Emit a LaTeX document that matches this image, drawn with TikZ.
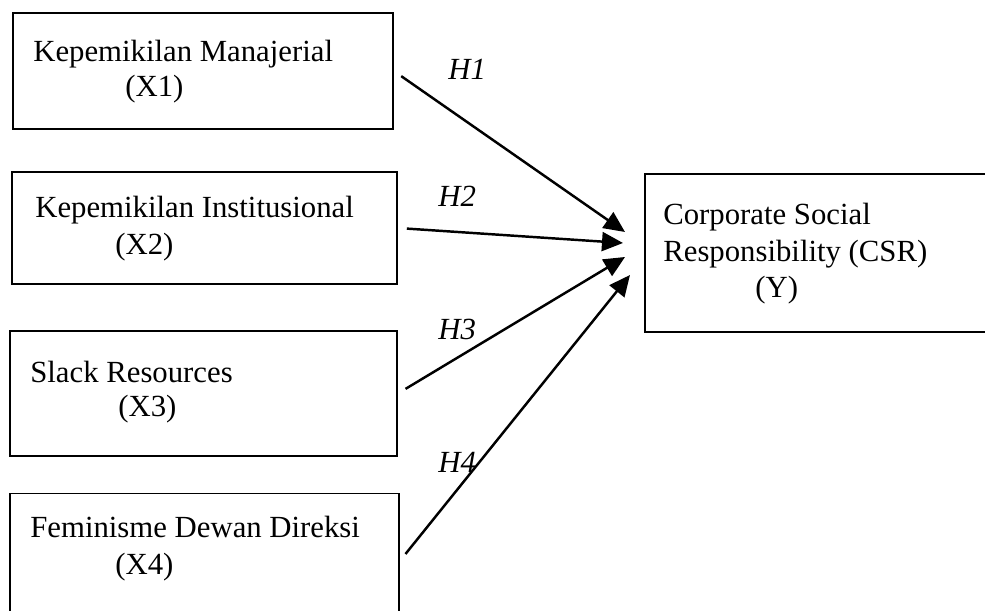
\documentclass[tikz,border=0pt]{standalone}
\usepackage{fontspec}
\setmainfont{Liberation Serif}
\usetikzlibrary{arrows.meta}
\tikzset{box/.style={draw,line width=1pt,inner sep=0pt}}
\tikzset{txt/.style={anchor=base west,inner sep=0pt,font=\fontsize{17.5}{21}\selectfont}}
\tikzset{hyp/.style={txt,font=\fontsize{17.5}{21}\selectfont\itshape}}
\tikzset{arr/.style={line width=1.4pt,shorten <=0.18cm,-{Triangle[length=0.42cm,width=0.38cm]}}}

\begin{document}
\begin{tikzpicture}[x=0.02cm,y=-0.02cm]
        \useasboundingbox (0,0) rectangle (985,611);
        % variabel independen
        \node[box,minimum width=7.6cm,minimum height=2.32cm] (x1) at (203,71) {};
        \node[box,minimum width=7.7cm,minimum height=2.24cm] (x2) at (204.5,228) {};
        \node[box,minimum width=7.74cm,minimum height=2.5cm] (x3) at (203.5,393.5) {};
        \node[box,minimum width=7.78cm,minimum height=2.7cm] (x4) at (204.5,561) {};
        \node[txt] (x1a) at (33,62) {Kepemikilan Manajerial};
        \node[txt] (x1b) at (125,97) {(X1)};
        \node[txt] (x2a) at (35,218) {Kepemikilan Institusional};
        \node[txt] (x2b) at (115,255) {(X2)};
        \node[txt] (x3a) at (30,383) {Slack Resources};
        \node[txt] (x3b) at (118,417) {(X3)};
        \node[txt] (x4a) at (30,538) {Feminisme Dewan Direksi};
        \node[txt] (x4b) at (115,575) {(X4)};
        % variabel dependen
        \node[box,minimum width=6.86cm,minimum height=3.16cm] (y) at (816.5,253) {};
        \node[txt] (ya) at (663,225) {Corporate Social};
        \node[txt] (yb) at (663,262) {Responsibility (CSR)};
        \node[txt] (yc) at (755,298) {(Y)};
        \coordinate (h1) at (625,232);
        \coordinate (h2) at (623,243);
        \coordinate (h3) at (625,257);
        \coordinate (h4) at (630,275);
        \draw[arr] (x1.east) -- (h1);
        \draw[arr] (x2.east) -- (h2);
        \draw[arr] (x3.east) -- (h3);
        \draw[arr] (x4.east) -- (h4);
        \node[hyp] (l1) at (448,80) {H1};
        \node[hyp] (l2) at (438,207) {H2};
        \node[hyp] (l3) at (438,340) {H3};
        \node[hyp] (l4) at (438,473) {H4};
      \end{tikzpicture}
\end{document}
